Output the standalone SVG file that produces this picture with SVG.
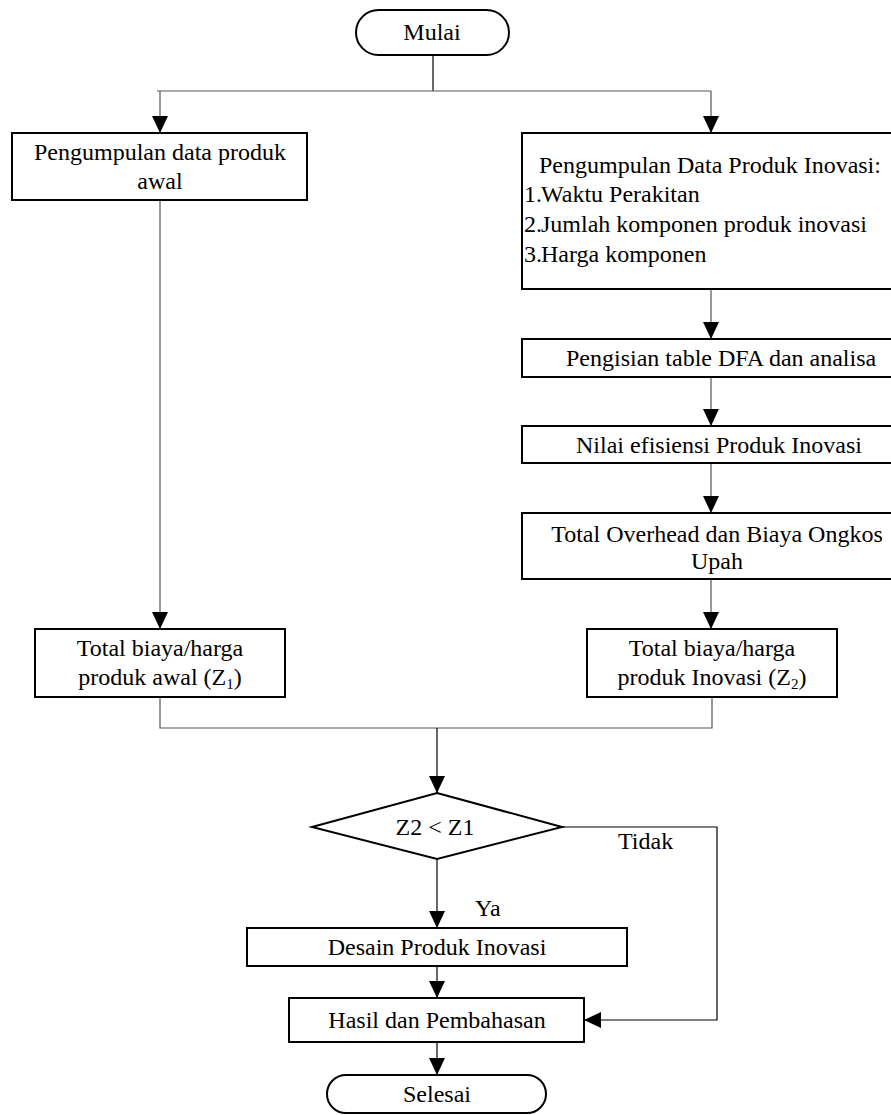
<svg xmlns="http://www.w3.org/2000/svg" width="891" height="1115" viewBox="0 0 891 1115">
<defs>
<style>
.box{fill:#fff;stroke:#000;stroke-width:2}
.t{font-family:"Liberation Serif","DejaVu Serif",serif;font-size:24px;fill:#000}
.c{text-anchor:middle}
.ln{fill:none;stroke:#555;stroke-width:1.2}
.sub{font-size:15px}
</style>
<marker id="ah" viewBox="0 0 17 16" refX="17" refY="8" markerWidth="17" markerHeight="16" markerUnits="userSpaceOnUse" orient="auto">
<path d="M0,0 L17,8 L0,16 Z" fill="#000"/>
</marker>
</defs>
<rect width="891" height="1115" fill="#fff"/>
<g id="connectors">
<path class="ln" d="M433,55 V91" style="stroke:#000"/>
<path class="ln" d="M157,91 H711"/>
<path class="ln" d="M160,91 V133" marker-end="url(#ah)"/>
<path class="ln" d="M711,91 V133" marker-end="url(#ah)"/>
<path class="ln" d="M711,289 V339" marker-end="url(#ah)"/>
<path class="ln" d="M711,377 V426" marker-end="url(#ah)"/>
<path class="ln" d="M711,463 V513" marker-end="url(#ah)"/>
<path class="ln" d="M160,200 V629" marker-end="url(#ah)"/>
<path class="ln" d="M711,579 V629" marker-end="url(#ah)"/>
<path class="ln" d="M160,697 V728 H712 V697"/>
<path class="ln" d="M437,728 V793" style="stroke:#000" marker-end="url(#ah)"/>
<path class="ln" d="M437,859 V928" style="stroke:#000" marker-end="url(#ah)"/>
<path class="ln" d="M562,827 H717 V1020 H584" style="stroke:#000" marker-end="url(#ah)"/>
<path class="ln" d="M437,966 V998" style="stroke:#000" marker-end="url(#ah)"/>
<path class="ln" d="M437,1042 V1075" style="stroke:#000" marker-end="url(#ah)"/>
</g>
<g id="mulai">
<rect class="box" x="356" y="10" width="153" height="45" rx="22.5"/>
<text class="t c" x="432" y="40">Mulai</text>
</g>
<g id="data-awal">
<rect class="box" x="12" y="133" width="295" height="67"/>
<text class="t c" x="160" y="160">Pengumpulan data produk</text>
<text class="t c" x="160" y="189">awal</text>
</g>
<g id="data-inovasi">
<rect class="box" x="522" y="133" width="380" height="156"/>
<text class="t" x="539" y="173">Pengumpulan Data Produk Inovasi:</text>
<text class="t" x="524" y="202">1.<tspan x="541">Waktu Perakitan</tspan></text>
<text class="t" x="524" y="232">2.<tspan x="541">Jumlah komponen produk inovasi</tspan></text>
<text class="t" x="524" y="262">3.<tspan x="541">Harga komponen</tspan></text>
</g>
<g id="dfa">
<rect class="box" x="522" y="339" width="380" height="38"/>
<text class="t" x="566" y="366">Pengisian table DFA dan analisa</text>
</g>
<g id="efisiensi">
<rect class="box" x="522" y="426" width="380" height="37"/>
<text class="t" x="576" y="453">Nilai efisiensi Produk Inovasi</text>
</g>
<g id="overhead">
<rect class="box" x="522" y="513" width="380" height="66"/>
<text class="t c" x="717" y="542">Total Overhead dan Biaya Ongkos</text>
<text class="t c" x="717" y="569">Upah</text>
</g>
<g id="total-awal">
<rect class="box" x="35" y="629" width="250" height="68"/>
<text class="t c" x="160" y="656">Total biaya/harga</text>
<text class="t c" x="160" y="685">produk awal  (Z<tspan class="sub" dy="4">1</tspan><tspan dy="-4">)</tspan></text>
</g>
<g id="total-inovasi">
<rect class="box" x="587" y="629" width="250" height="68"/>
<text class="t c" x="712" y="656">Total biaya/harga</text>
<text class="t c" x="712" y="685">produk Inovasi  (Z<tspan class="sub" dy="4">2</tspan><tspan dy="-4">)</tspan></text>
</g>
<g id="decision">
<polygon class="box" points="437,793 562,827 437,859 312,827"/>
<text class="t c" x="435" y="835">Z2 &lt; Z1</text>
</g>
<g id="labels">
<text class="t" x="618" y="849">Tidak</text>
<text class="t" x="475" y="916">Ya</text>
</g>
<g id="desain">
<rect class="box" x="247" y="928" width="380" height="38"/>
<text class="t c" x="437" y="955">Desain Produk Inovasi</text>
</g>
<g id="hasil">
<rect class="box" x="289" y="998" width="295" height="44"/>
<text class="t c" x="437" y="1028">Hasil dan Pembahasan</text>
</g>
<g id="selesai">
<rect class="box" x="327" y="1075" width="219" height="38" rx="19"/>
<text class="t c" x="437" y="1102">Selesai</text>
</g>
</svg>
